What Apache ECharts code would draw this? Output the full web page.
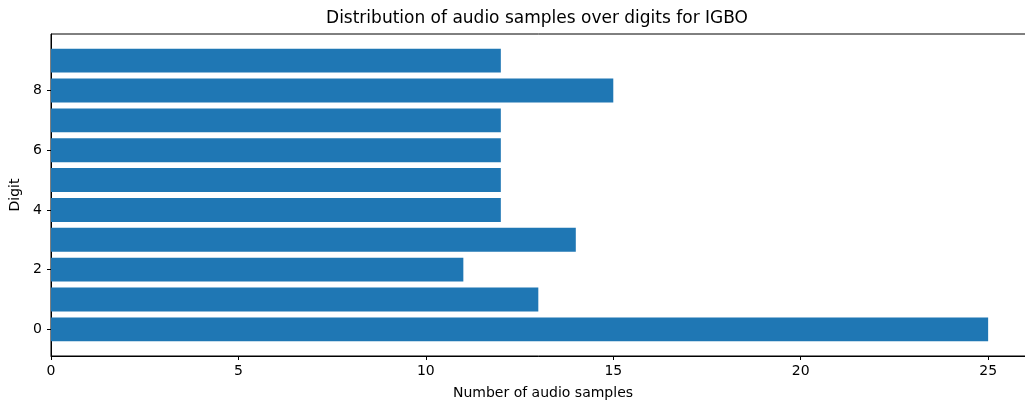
<!DOCTYPE html>
<html><head><meta charset="utf-8">
<script src="https://cdn.jsdelivr.net/npm/echarts@6/dist/echarts.min.js"></script>
<style>html,body{margin:0;padding:0;background:#fff}#c{width:1025px;height:402px}</style>
</head><body><div id="c"></div>
<script>
const digits = [0,1,2,3,4,5,6,7,8,9];
const counts = [25,13,11,14,12,12,12,12,15,12];
const xTicks = [0,5,10,15,20,25];
const yTicks = [0,2,4,6,8];
const titleText = 'Distribution of audio samples over digits for IGBO';
const xName = 'Number of audio samples';
const yName = 'Digit';

const font = 'DejaVu Sans';
const chart = echarts.init(document.getElementById('c'), null, {renderer:'canvas'});
const data = digits.map((d,i)=>[counts[i], d]);
chart.setOption({
  animation:false,
  backgroundColor:'#fff',
  title:{text:titleText, left:532, textAlign:'center', top:5,
    textStyle:{fontFamily:font, fontSize:17, fontWeight:'normal', color:'#000'}},
  grid:{left:51, right:-10, top:34, bottom:46, show:true, borderColor:'#000', borderWidth:1,
    containLabel:false, outerBoundsMode:'none'},
  xAxis:{type:'value', min:0, max:26.25,
    name:xName, nameLocation:'middle', nameGap:30,
    nameTextStyle:{fontFamily:font, fontSize:14, color:'#000'},
    axisLine:{show:true, onZero:false, lineStyle:{color:'#000', width:1}},
    axisTick:{show:true, inside:false, length:4, customValues:xTicks, lineStyle:{color:'#000'}},
    axisLabel:{customValues:xTicks, fontFamily:font, fontSize:14, color:'#000', margin:8},
    splitLine:{show:false}},
  yAxis:{type:'value', min:-0.89, max:9.89,
    name:yName, nameLocation:'middle', nameGap:29, nameRotate:90,
    nameTextStyle:{fontFamily:font, fontSize:14, color:'#000'},
    axisLine:{show:true, onZero:false, lineStyle:{color:'#000', width:1}},
    axisTick:{show:true, inside:false, length:4, customValues:yTicks, lineStyle:{color:'#000'}},
    axisLabel:{customValues:yTicks, fontFamily:font, fontSize:14, color:'#000', margin:9},
    splitLine:{show:false}},
  series:[{type:'custom', data:data,
    renderItem:function(params, api){
      const v = api.value(0), d = api.value(1);
      const p0 = api.coord([0, d + 0.4]);
      const p1 = api.coord([v, d - 0.4]);
      return {type:'rect', shape:{x:p0[0], y:p0[1], width:p1[0]-p0[0], height:p1[1]-p0[1]},
        style:{fill:'#1f77b4'}};
    }, encode:{x:0, y:1}}]
});
</script></body></html>
